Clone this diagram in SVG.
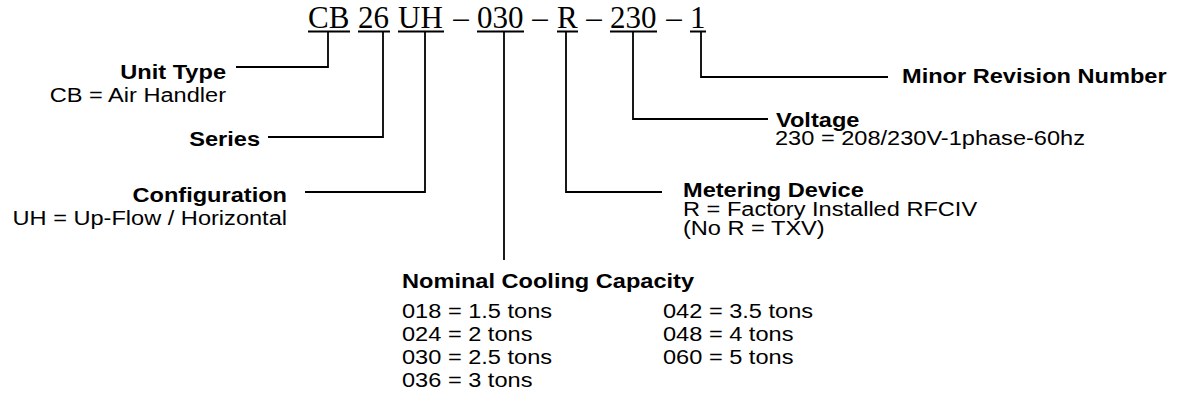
<svg xmlns="http://www.w3.org/2000/svg" width="1187" height="396" viewBox="0 0 1187 396">
<style>
.code{font-family:"Liberation Serif","Times New Roman",serif;font-size:31px;fill:#000}
.t{font-family:"Liberation Sans",Arial,sans-serif;font-size:19.5px;fill:#000}
.b{font-weight:bold}
.e{text-anchor:end}
.m{text-anchor:middle}
.ln{stroke:#000;stroke-width:1.8;fill:none}
</style>
<rect width="1187" height="396" fill="#fff"/>
<g id="model-code">
  <text class="code" x="308" y="27.5">CB</text>
  <text class="code" x="358" y="27.5">26</text>
  <text class="code" x="398" y="27.5">UH</text>
  <text class="code m" x="461" y="27.5">–</text>
  <text class="code" x="477" y="27.5">030</text>
  <text class="code m" x="540" y="27.5">–</text>
  <text class="code" x="557" y="27.5">R</text>
  <text class="code m" x="594" y="27.5">–</text>
  <text class="code" x="610" y="27.5">230</text>
  <text class="code m" x="674" y="27.5">–</text>
  <text class="code" x="690" y="27.5">1</text>
  <path class="ln" d="M308,31.5H350M358,31.5H390M398,31.5H444M477,31.5H524M557,31.5H578M610,31.5H657M690,31.5H706"/>
</g>
<g id="connectors">
  <path class="ln" d="M328,32V67H236"/>
  <path class="ln" d="M383,32V137H268"/>
  <path class="ln" d="M425,32V192H305"/>
  <path class="ln" d="M504,32V260"/>
  <path class="ln" d="M566,32V192H662"/>
  <path class="ln" d="M633,32V119H768"/>
  <path class="ln" d="M701,32V77H888"/>
</g>
<g id="unit-type">
  <text class="t b e" transform="translate(226,79) scale(1.21,1)">Unit Type</text>
  <text class="t e" transform="translate(226,102) scale(1.21,1)">CB = Air Handler</text>
</g>
<g id="series">
  <text class="t b e" transform="translate(260,146) scale(1.21,1)">Series</text>
</g>
<g id="configuration">
  <text class="t b e" transform="translate(287,201.5) scale(1.21,1)">Configuration</text>
  <text class="t e" transform="translate(287,225) scale(1.21,1)">UH = Up-Flow / Horizontal</text>
</g>
<g id="nominal-cooling-capacity">
  <text class="t b" transform="translate(402,288) scale(1.21,1)">Nominal Cooling Capacity</text>
  <text class="t" transform="translate(402,318) scale(1.21,1)">018 = 1.5 tons</text>
  <text class="t" transform="translate(402,341) scale(1.21,1)">024 = 2 tons</text>
  <text class="t" transform="translate(402,364) scale(1.21,1)">030 = 2.5 tons</text>
  <text class="t" transform="translate(402,387) scale(1.21,1)">036 = 3 tons</text>
  <text class="t" transform="translate(663,318) scale(1.21,1)">042 = 3.5 tons</text>
  <text class="t" transform="translate(663,341) scale(1.21,1)">048 = 4 tons</text>
  <text class="t" transform="translate(663,364) scale(1.21,1)">060 = 5 tons</text>
</g>
<g id="metering-device">
  <text class="t b" transform="translate(683,197) scale(1.21,1)">Metering Device</text>
  <text class="t" transform="translate(683,216) scale(1.21,1)">R = Factory Installed RFCIV</text>
  <text class="t" transform="translate(683,235) scale(1.21,1)">(No R = TXV)</text>
</g>
<g id="voltage">
  <text class="t b" transform="translate(776,127) scale(1.21,1)">Voltage</text>
  <text class="t" transform="translate(775,145) scale(1.21,1)">230 = 208/230V-1phase-60hz</text>
</g>
<g id="minor-revision">
  <text class="t b" transform="translate(902,83) scale(1.21,1)">Minor Revision Number</text>
</g>
</svg>
